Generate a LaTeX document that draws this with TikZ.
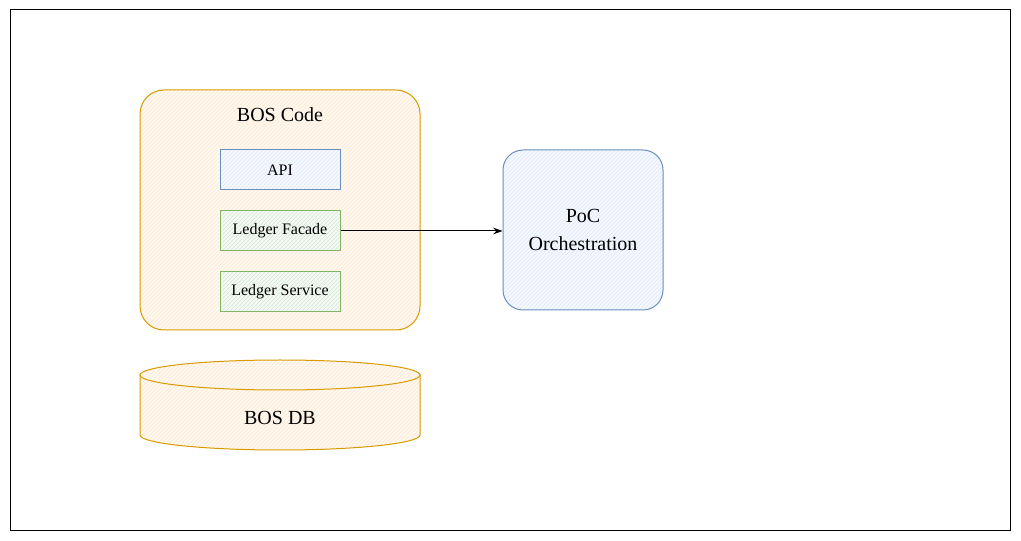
\documentclass[tikz,border=0pt]{standalone}
\usepackage{fontspec}
\setmainfont{Liberation Serif}
\usetikzlibrary{positioning,patterns,arrows.meta}
\definecolor{orangeline}{HTML}{D79B00}
\definecolor{orangefill}{HTML}{FFE6CC}
\definecolor{blueline}{HTML}{6C8EBF}
\definecolor{bluefill}{HTML}{DAE8FC}
\definecolor{greenline}{HTML}{82B366}
\definecolor{greenfill}{HTML}{D5E8D4}
\tikzset{>={Stealth[length=7pt,width=5pt]},
  hatched/.style={fill=#1fill!25,
    postaction={pattern=north east lines, pattern color=#1fill},
    postaction={draw=#1line}},
  part/.style={hatched=#1, line width=0.75pt,
    minimum width=90pt, minimum height=30pt, inner sep=0pt,
    font=\fontsize{12}{14}\selectfont},
  bigtext/.style={font=\fontsize{15}{20.5}\selectfont, align=center}
}

\begin{document}
\begin{tikzpicture}[x=0.75pt,y=-0.75pt,line width=0.75pt,node distance=15pt]
                \useasboundingbox (0,0) rectangle (1021,541);
                \draw (10,10) rectangle (1010,530);

                % BOS code container
                \node[hatched=orange, rounded corners=18pt,
                      minimum width=210pt, minimum height=180pt] (bos) at (280,210) {};
                \node[bigtext] (bostitle) at (280,115) {BOS Code};
                \node[part=blue] (api) at (280,170) {API};
                \node[part=green, below=of api] (facade) {Ledger Facade};
                \node[part=green, below=of facade] (service) {Ledger Service};

                % PoC box
                \node[hatched=blue, rounded corners=15pt,
                      minimum width=120pt, minimum height=120pt, bigtext] (poc) at (583,230) {PoC\\Orchestration};

                % database
                \path[hatched=orange]
                    (140,375) -- (140,435) arc[start angle=180, end angle=360, x radius=105pt, y radius=11.25pt]
                    -- (420,375) -- cycle;
                \path[hatched=orange]
                    (280,375) ellipse[x radius=105pt, y radius=11.25pt];
                \node[bigtext] (db) at (280,418) {BOS DB};

                \draw[->] (facade.east) -- (facade.east -| poc.west);
                \end{tikzpicture}
\end{document}
